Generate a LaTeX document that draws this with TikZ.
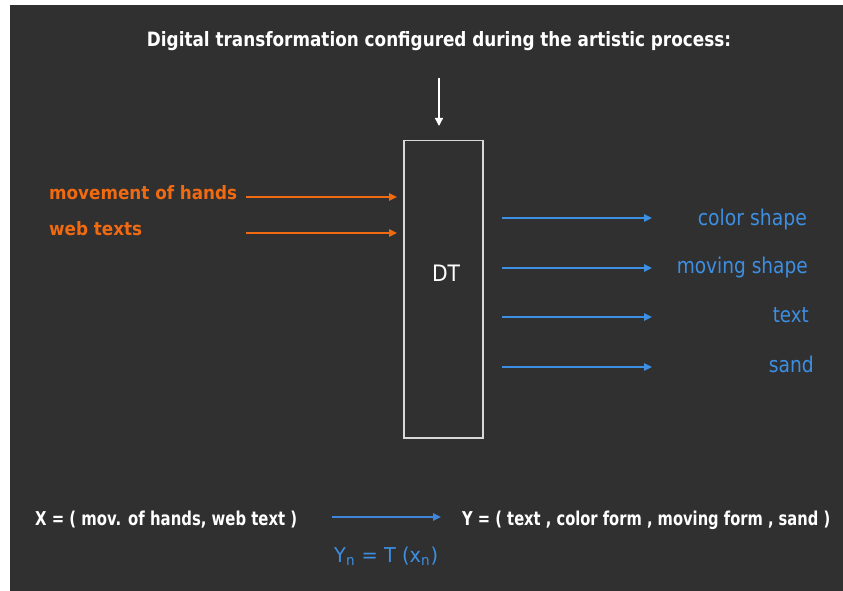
\documentclass[tikz,border=0pt]{standalone}
\usepackage{fontspec}
\setmainfont{DejaVu Sans}
\usetikzlibrary{arrows.meta}
\definecolor{bg}{HTML}{303030}
\definecolor{org}{HTML}{F06A12}
\definecolor{blu}{HTML}{3D8FE3}
\definecolor{blu2}{HTML}{3F86DA}
\definecolor{boxc}{HTML}{D8D8D8}
\begin{document}
\begin{tikzpicture}[x=1pt,y=-1pt,
  lbl/.style={inner sep=0pt, anchor=base},
  oarr/.style={draw=org, line width=1.4pt, -{Triangle[length=8pt,width=7.5pt]}},
  barr/.style={draw=blu, line width=1.4pt, -{Triangle[length=8pt,width=7.5pt]}},
  warr/.style={draw=white, line width=1.4pt, -{Triangle[length=8pt,width=8pt]}},
  dtbox/.style={draw=boxc, line width=1.5pt, minimum width=79pt, minimum height=297pt, inner sep=0pt, anchor=north west}]
\fill[white] (0,0) rectangle (843,591);
\fill[bg] (10,5) rectangle (843,591);
\useasboundingbox (0,0) rectangle (843,591);

\node[lbl, text=white] (title) at (439,47) {\resizebox{584pt}{15pt}{\bfseries Digital transformation configured during the artistic process:}};

\node[dtbox] (dt) at (403,140) {};
\node[lbl, text=white] (dtl) at (446,281) {\resizebox{28pt}{16.5pt}{DT}};

\coordinate (tops) at (439,78);
\coordinate (tope) at (439,126);
\draw[warr] (tops) -- (tope);

\node[lbl, anchor=base west, text=org] (mh) at (49,199) {\resizebox{188pt}{14pt}{\bfseries movement of hands}};
\node[lbl, anchor=base west, text=org] (wt) at (49,235) {\resizebox{93pt}{14pt}{\bfseries web texts}};
\coordinate (mhs) at (246,197);
\coordinate (mhe) at (397,197);
\coordinate (wts) at (246,233);
\coordinate (wte) at (397,233);
\draw[oarr] (mhs) -- (mhe);
\draw[oarr] (wts) -- (wte);

\node[lbl, anchor=base east, text=blu] (cs) at (807,225) {\resizebox{109pt}{16.5pt}{color shape}};
\node[lbl, anchor=base east, text=blu] (ms) at (808,273) {\resizebox{131pt}{16.5pt}{moving shape}};
\node[lbl, anchor=base east, text=blu] (tx) at (809,322) {\resizebox{36pt}{15pt}{text}};
\node[lbl, anchor=base east, text=blu] (sd) at (814,372) {\resizebox{45pt}{16.5pt}{sand}};
\foreach \n/\yy in {1/218,2/268,3/317,4/367}{
  \coordinate (bs\n) at (502,\yy);
  \coordinate (be\n) at (652,\yy);
  \draw[barr] (bs\n) -- (be\n);
}

\node[lbl, anchor=base west, text=white] (xx) at (35,525) {\resizebox{262pt}{14.5pt}{\bfseries X = ( mov. of hands, web text )}};
\node[lbl, anchor=base west, text=white] (yy) at (462,525) {\resizebox{368pt}{14.5pt}{\bfseries Y = ( text , color form , moving form , sand )}};
\coordinate (bas) at (332,517);
\coordinate (bae) at (441,517);
\draw[barr, draw=blu2] (bas) -- (bae);
\node[lbl, anchor=base west, text=blu] (yn) at (334,562) {\resizebox{104pt}{15.5pt}{Y\textsubscript{n} = T (x\textsubscript{n})}};
\end{tikzpicture}
\end{document}
